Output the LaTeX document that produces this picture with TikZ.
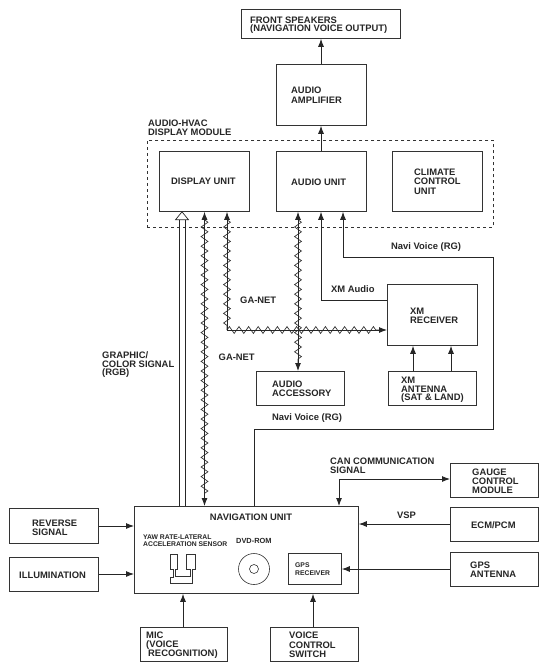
\documentclass[tikz,border=0pt]{standalone}
\usepackage{fontspec}
\setmainfont{Liberation Sans}
\usetikzlibrary{arrows.meta,decorations.pathmorphing,calc}
\tikzset{
 boxn/.style={draw=black!80,line width=0.8pt,inner sep=0pt,anchor=north west},
 lab/.style={font=\fontsize{9.4}{9.4}\selectfont\bfseries,inner sep=0pt,align=left,text=black!85},
 labs/.style={font=\fontsize{6.8}{7}\selectfont\bfseries,inner sep=0pt,anchor=west,text=black!85},
 wire/.style={draw=black!85,line width=0.9pt},
 arr/.style={wire,-{Latex[length=8pt,width=6pt]}},
 arrb/.style={wire,{Latex[length=8pt,width=6pt]}-{Latex[length=8pt,width=6pt]}},
 zz/.style={draw=black!80,line width=0.7pt,decorate,decoration={zigzag,segment length=9.6pt,amplitude=3.4pt}},
}
\newcommand{\bx}[5]{\node[boxn,minimum width={(#4-#2)*1pt},minimum height={(#5-#3)*1pt}] (#1) at (#2,#3) {};}
\newcommand{\lb}[3]{\node[lab,anchor=west] at (#1,#2) {#3};}
\begin{document}
\begin{tikzpicture}[x=1pt,y=-1pt]
\useasboundingbox (0,0) rectangle (548,671);
\fill[white] (0,0) rectangle (548,671);
% boxes
\bx{spk}{241}{9}{400}{38}
\bx{amp}{276}{64}{366}{125}
\node[boxn,line width=0.6pt,dashed,minimum width=346pt,minimum height=87pt] (mod) at (147,140) {};
\bx{disp}{159}{151}{249}{211}
\bx{aud}{276}{151}{366}{211}
\bx{clim}{392}{151}{482}{211}
\bx{xmr}{387}{284}{477}{345}
\bx{xma}{388}{371}{476}{405}
\bx{acc}{256}{371}{344}{405}
\bx{nav}{134}{506}{358}{593}
\bx{rev}{9}{508}{98}{543}
\bx{ill}{9}{557}{98}{591}
\bx{gau}{450}{463}{538}{497}
\bx{ecm}{450}{507}{538}{541}
\bx{gan}{450}{552}{538}{586}
\bx{mic}{140}{627}{227}{661}
\bx{vcs}{270}{627}{358}{661}
\bx{gps}{288}{553}{341}{584}
% labels
\lb{250}{20}{FRONT SPEAKERS}
\lb{250}{29}{(NAVIGATION VOICE OUTPUT)}
\lb{291}{90}{AUDIO}
\lb{291}{100}{AMPLIFIER}
\lb{148}{123}{AUDIO-HVAC}
\lb{148}{132}{DISPLAY MODULE}
\lb{171}{181}{DISPLAY UNIT}
\lb{291}{182}{AUDIO UNIT}
\lb{414}{172}{CLIMATE}
\lb{414}{181}{CONTROL}
\lb{414}{191}{UNIT}
\lb{410}{311}{XM}
\lb{410}{320}{RECEIVER}
\lb{401}{380}{XM}
\lb{401}{389}{ANTENNA}
\lb{401}{398}{(SAT \& LAND)}
\lb{272}{384}{AUDIO}
\lb{272}{393}{ACCESSORY}
\lb{240}{300}{GA-NET}
\lb{218.5}{357}{GA-NET}
\lb{331}{289}{XM Audio}
\lb{391}{247}{Navi Voice (RG)}
\lb{272}{418}{Navi Voice (RG)}
\lb{102}{355}{GRAPHIC/}
\lb{102}{364}{COLOR SIGNAL}
\lb{102}{373}{(RGB)}
\lb{330}{461}{CAN COMMUNICATION}
\lb{330}{470}{SIGNAL}
\lb{472}{472}{GAUGE}
\lb{472}{481}{CONTROL}
\lb{472}{490}{MODULE}
\lb{397}{515}{VSP}
\lb{471}{525}{ECM/PCM}
\lb{470}{565}{GPS}
\lb{470}{574}{ANTENNA}
\lb{32}{523}{REVERSE}
\lb{32}{532}{SIGNAL}
\lb{19}{575}{ILLUMINATION}
\node[lab,anchor=center] at (251,517) {NAVIGATION UNIT};
\node[labs] at (143,537) {YAW RATE-LATERAL};
\node[labs] at (143,544) {ACCELERATION SENSOR};
\node[labs,font=\fontsize{7.4}{7}\selectfont\bfseries] at (236,541) {DVD-ROM};
\node[labs] at (295,565) {GPS};
\node[labs] at (295,573) {RECEIVER};
\lb{146}{635}{MIC}
\lb{146}{645}{(VOICE}
\lb{148}{654}{RECOGNITION)}
\lb{289}{635}{VOICE}
\lb{289}{645}{CONTROL}
\lb{289}{654}{SWITCH}
% DVD & sensor
\node[circle,draw=black!80,line width=0.6pt,minimum size=31pt,inner sep=0pt] (dvd) at (254,569) {};
\node[circle,draw=black!80,line width=0.6pt,minimum size=9pt,inner sep=0pt] (dvdh) at (254,569) {};
\draw[black!80,line width=0.7pt] (170.7,554.3)--(177.3,554.3)--(177.3,569)--(175.3,569)--(175.3,576.7)--(190,576.7)--(190,569)--(186.7,569)--(186.7,554.3)--(195.3,554.3)--(195.3,569)--(192.7,569)--(192.7,583.3)--(170.7,583.3)--(170.7,577.3)--(173.3,577.3)--(173.3,569)--(170.7,569)--cycle;
% coordinates for wires
\coordinate (xa) at (204.5,300);
\coordinate (xb) at (227,300);
\coordinate (xc) at (298,300);
\coordinate (xd) at (321,300);
\coordinate (xe) at (343,300);
\coordinate (xf) at (179,300);
\coordinate (xg) at (185.3,300);
\coordinate (xh) at (182,300);
\coordinate (ya) at (300,330);
\coordinate (yb) at (300,300);
\coordinate (v1) at (493,257);
\coordinate (v2) at (493,429);
\coordinate (v3) at (254,429);
\coordinate (v4) at (343,257);
\coordinate (c1) at (339,479);
% arrows
\draw[arr] (aud.north -| xd) -- (amp.south -| xd);
\draw[arr] (amp.north -| xd) -- (spk.south -| xd);
\draw[zz] ($(disp.south -| xa)+(0,8)$) -- ($(nav.north -| xa)+(0,-8)$);
\draw[arrb] (disp.south -| xa) -- (nav.north -| xa);
\draw[zz] ($(disp.south -| xc)+(0,8)$) -- ($(acc.north -| xc)+(0,-8)$);
\draw[arrb] (aud.south -| xc) -- (acc.north -| xc);
\draw[zz] ($(disp.south -| xb)+(0,8)$) -- (xb |- ya);
\draw[zz,yshift=3.2pt] (xb |- ya) -- ($(xmr.west |- ya)+(-8,0)$);
\draw[arrb] (disp.south -| xb) -- (xb |- ya) -- (xmr.west |- ya);
\draw[arr] (xmr.west |- yb) -- (xd |- yb) -- (aud.south -| xd);
\draw[arr] (nav.north -| v3) -- (v3) -- (v2) -- (v1) -- (v4) -- (aud.south -| xe);
% open double arrow
\draw[wire,line width=0.8pt] (nav.north -| xf) -- ($(disp.south -| xf)+(0,8)$);
\draw[wire,line width=0.8pt] (nav.north -| xg) -- ($(disp.south -| xg)+(0,8)$);
\draw[wire,line width=0.7pt,fill=white] (disp.south -| xh) -- ++(6.5,8) -- ++(-13,0) -- cycle;
\draw[arrb] (nav.north -| c1) -- (c1) -- (gau.west |- c1);
\draw[arr] (ecm.west |- 0,524) -- (nav.east |- 0,524);
\draw[arr] (gan.west |- 0,569) -- (gps.east |- 0,569);
\draw[arr] (rev.east |- 0,526) -- (nav.west |- 0,526);
\draw[arr] (ill.east |- 0,574) -- (nav.west |- 0,574);
\draw[arr] (mic.north -| 183,0) -- (nav.south -| 183,0);
\draw[arr] (vcs.north -| 313,0) -- (nav.south -| 313,0);
\draw[arr] (xma.north -| 413,0) -- (xmr.south -| 413,0);
\draw[arr] (xma.north -| 451,0) -- (xmr.south -| 451,0);
\end{tikzpicture}
\end{document}
